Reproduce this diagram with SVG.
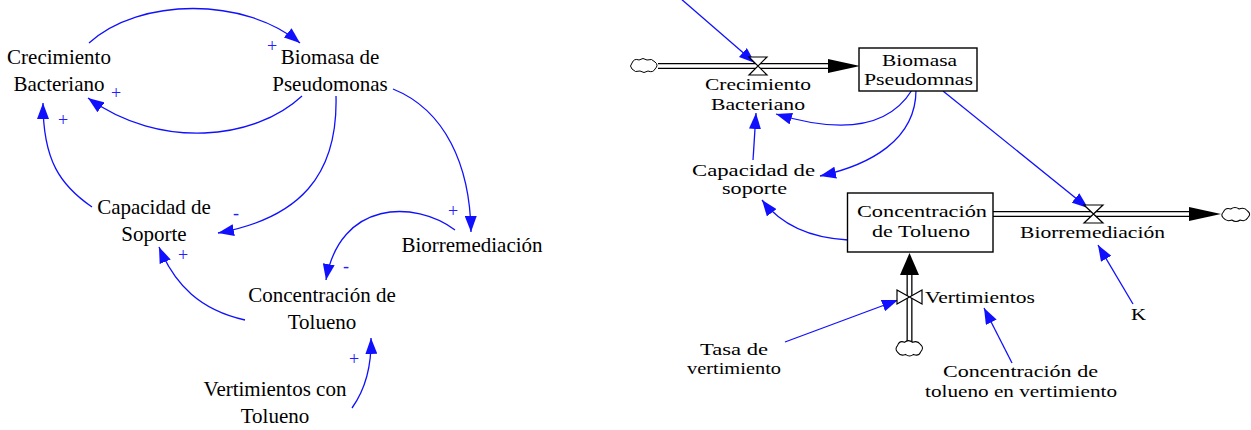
<svg xmlns="http://www.w3.org/2000/svg" width="1251" height="430" viewBox="0 0 1251 430">
<style>
text{font-family:'Liberation Serif','Tinos','DejaVu Serif',serif}
.lt{font-size:21px;fill:#000;text-anchor:middle}
.rt{font-size:17px;fill:#000;text-anchor:middle}
.pol{font-size:18px;fill:#2020ff;text-anchor:middle}
.lnk{fill:none;stroke:#1010ff;stroke-width:1.3;marker-end:url(#ah)}
.box{fill:#fff;stroke:#000;stroke-width:1.4}
.pipeO{stroke:#000;stroke-width:6;fill:none}
.pipeI{stroke:#fff;stroke-width:3.4;fill:none}
.valve{fill:#fff;stroke:#000;stroke-width:1.2}
.cloud{fill:#fff;stroke:#000;stroke-width:1}
</style>
<defs>
<marker id="ah" markerUnits="userSpaceOnUse" markerWidth="17" markerHeight="12" refX="16" refY="6" orient="auto">
<path d="M0,0 L16,6 L0,12 Z" fill="#1010ff"/>
</marker>
<path id="cl" class="cloud" d="M-12,-4 q2,-5 7,-3 q4,-3 8,0 q5,-2 8,2 q4,3 0,7 q-2,4 -7,2 q-4,3 -8,0 q-5,2 -8,-2 q-3,-3 0,-6 z"/>
</defs>

<!-- LEFT: causal loop diagram -->
<g id="connectors-left">
<path class="lnk" d="M89,43 C140,-3 245,-3 300,43"/>
<path class="lnk" d="M302,96 C255,140 160,150 88,98"/>
<path class="lnk" d="M92,207 C60,185 43,160 43,103"/>
<path class="lnk" d="M336,96 C338,175 300,218 218,233"/>
<path class="lnk" d="M245,320 C200,310 175,285 159,247"/>
<path class="lnk" d="M393,89 C445,110 470,165 471,232"/>
<path class="lnk" d="M455,230 C415,200 340,200 326,280"/>
<path class="lnk" d="M352,408 Q372,380 371,338"/>
</g>
<g id="polarities-left">
<text class="pol" x="272" y="52">+</text>
<text class="pol" x="116" y="99">+</text>
<text class="pol" x="63" y="126">+</text>
<text class="pol" x="236" y="219">-</text>
<text class="pol" x="183" y="261">+</text>
<text class="pol" x="453" y="217">+</text>
<text class="pol" x="346" y="272">-</text>
<text class="pol" x="354" y="365">+</text>
</g>
<g id="cld-crecimiento"><text class="lt" x="59" y="64">Crecimiento</text><text class="lt" x="59" y="91">Bacteriano</text></g>
<g id="cld-biomasa"><text class="lt" x="330" y="64">Biomasa de</text><text class="lt" x="330" y="91">Pseudomonas</text></g>
<g id="cld-capacidad"><text class="lt" x="154" y="214">Capacidad de</text><text class="lt" x="154" y="241">Soporte</text></g>
<g id="cld-biorremediacion"><text class="lt" x="472" y="252">Biorremediación</text></g>
<g id="cld-concentracion"><text class="lt" x="322" y="302">Concentración de</text><text class="lt" x="322" y="329">Tolueno</text></g>
<g id="cld-vertimientos"><text class="lt" x="275" y="396">Vertimientos con</text><text class="lt" x="275" y="423">Tolueno</text></g>

<!-- RIGHT: stock and flow diagram -->
<g id="pipes">
<line class="pipeO" x1="658" y1="66" x2="830" y2="66"/>
<line class="pipeI" x1="657" y1="66" x2="831" y2="66"/>
<polygon points="828,59 860,66 828,73" fill="#000"/>
<line class="pipeO" x1="993" y1="214" x2="1191" y2="214"/>
<line class="pipeI" x1="992" y1="214" x2="1192" y2="214"/>
<polygon points="1189,207 1221,214 1189,221" fill="#000"/>
<line class="pipeO" x1="909.5" y1="343" x2="909.5" y2="273"/>
<line class="pipeI" x1="909.5" y1="344" x2="909.5" y2="272"/>
<polygon points="900,275 909.5,253 919,275" fill="#000"/>
</g>
<g id="connectors-right">
<path class="lnk" d="M680,-2 L755,63"/>
<path class="lnk" d="M912,90 Q878,145 776,114"/>
<path class="lnk" d="M916,90 C916,140 870,165 820,176"/>
<path class="lnk" d="M753,160 L756,113"/>
<path class="lnk" d="M848,240 Q790,237 762,200"/>
<path class="lnk" d="M943,91 L1088,208"/>
<path class="lnk" d="M1133,304 L1098,245"/>
<path class="lnk" d="M785,342 L898,300"/>
<path class="lnk" d="M1012,363 L984,308"/>
</g>
<g id="cloud-source-crecimiento"><use href="#cl" transform="translate(644,67)"/></g>
<g id="cloud-sink-biorremediacion"><use href="#cl" transform="translate(1236,216) scale(1.05,1)"/></g>
<g id="cloud-source-vertimientos"><use href="#cl" transform="translate(909.5,350) scale(1,1.1)"/></g>

<g id="stock-biomasa">
<rect class="box" x="859" y="48" width="118" height="43"/>
<text class="rt" x="919.5" y="66" textLength="75" lengthAdjust="spacingAndGlyphs">Biomasa</text>
<text class="rt" x="918.5" y="85" textLength="109" lengthAdjust="spacingAndGlyphs">Pseudomnas</text>
</g>
<g id="stock-concentracion">
<rect class="box" x="847.5" y="193" width="145.5" height="59"/>
<text class="rt" x="922" y="217" textLength="130" lengthAdjust="spacingAndGlyphs">Concentración</text>
<text class="rt" x="921" y="237" textLength="98" lengthAdjust="spacingAndGlyphs">de Tolueno</text>
</g>
<g id="flow-crecimiento">
<path class="valve" d="M749,57 L767,57 L749,75 L767,75 Z"/>
<text class="rt" x="758" y="90" textLength="106" lengthAdjust="spacingAndGlyphs">Crecimiento</text>
<text class="rt" x="758" y="110" textLength="94" lengthAdjust="spacingAndGlyphs">Bacteriano</text>
</g>
<g id="flow-biorremediacion">
<path class="valve" d="M1084,205 L1103,205 L1084,223 L1103,223 Z"/>
<text class="rt" x="1092.5" y="238" textLength="145" lengthAdjust="spacingAndGlyphs">Biorremediación</text>
</g>
<g id="flow-vertimientos">
<path class="valve" d="M897,290 L897,304 L922,290 L922,304 Z"/>
<text class="rt" x="980" y="303" textLength="110" lengthAdjust="spacingAndGlyphs">Vertimientos</text>
</g>
<g id="aux-capacidad">
<text class="rt" x="753.5" y="176" textLength="123" lengthAdjust="spacingAndGlyphs">Capacidad de</text>
<text class="rt" x="754.5" y="194" textLength="65" lengthAdjust="spacingAndGlyphs">soporte</text>
</g>
<g id="aux-k"><text class="rt" x="1138.5" y="320" textLength="15" lengthAdjust="spacingAndGlyphs">K</text></g>
<g id="aux-tasa">
<text class="rt" x="734" y="355" textLength="68" lengthAdjust="spacingAndGlyphs">Tasa de</text>
<text class="rt" x="734" y="374" textLength="94" lengthAdjust="spacingAndGlyphs">vertimiento</text>
</g>
<g id="aux-concvert">
<text class="rt" x="1020.5" y="377" textLength="155" lengthAdjust="spacingAndGlyphs">Concentración de</text>
<text class="rt" x="1021" y="397" textLength="192" lengthAdjust="spacingAndGlyphs">tolueno en vertimiento</text>
</g>
</svg>
